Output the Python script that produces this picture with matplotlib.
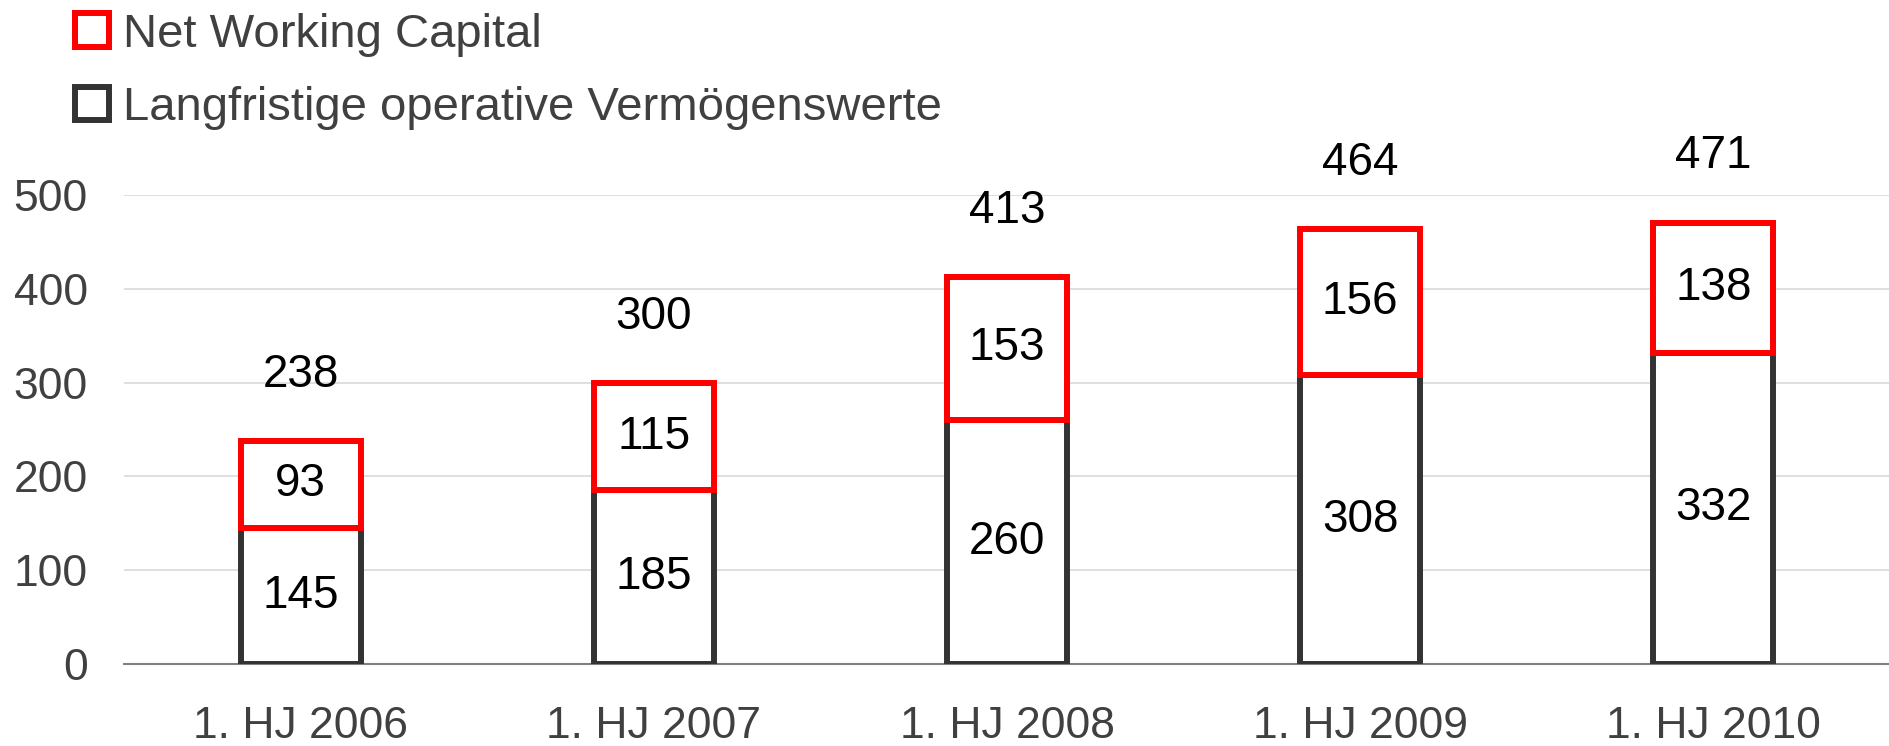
import matplotlib.pyplot as plt
from matplotlib.patches import Patch

# Daten (Mio. EUR)
perioden = ['1. HJ 2006', '1. HJ 2007', '1. HJ 2008', '1. HJ 2009', '1. HJ 2010']
langfristig = [145, 185, 260, 308, 332]
net_working_capital = [93, 115, 153, 156, 138]
summen = [238, 300, 413, 464, 471]

ROT = '#FF0000'
DUNKEL = '#333333'
TEXT = '#404040'

plt.rcParams['font.family'] = ['Liberation Sans', 'DejaVu Sans']

fig = plt.figure(figsize=(18.9, 7.46), dpi=100)
ax = fig.add_axes([124 / 1890, 82 / 746, 1766 / 1890, 469 / 746])

x = range(len(perioden))
breite = 0.34

ax.bar(x, langfristig, width=breite, color='white', edgecolor=DUNKEL, linewidth=4.3, zorder=2)
ax.bar(x, net_working_capital, bottom=langfristig, width=breite, color='white',
       edgecolor=ROT, linewidth=4.3, zorder=3)

# Beschriftungen der Segmente und Summen
for i in x:
    ax.text(i, langfristig[i] / 2, str(langfristig[i]), ha='center', va='center',
            fontsize=33, color='black', zorder=4)
    ax.text(i, langfristig[i] + net_working_capital[i] / 2, str(net_working_capital[i]),
            ha='center', va='center', fontsize=33, color='black', zorder=4)
    ax.annotate(str(summen[i]), xy=(i, summen[i]), xytext=(0, 66),
                textcoords='offset pixels', ha='center', va='center',
                fontsize=33, color='black', annotation_clip=False)

ax.set_xlim(-0.5, len(perioden) - 0.5)
ax.set_ylim(0, 500)
ax.set_yticks([0, 100, 200, 300, 400, 500])
ax.set_xticks(list(x))
ax.set_xticklabels(perioden)
ax.tick_params(axis='y', length=0, pad=26, labelsize=32, labelcolor=TEXT)
ax.tick_params(axis='x', length=0, pad=30, labelsize=32, labelcolor=TEXT)

ax.grid(axis='y', color='#D9D9D9', linewidth=1.2, zorder=0)
ax.set_axisbelow(True)
for s in ['top', 'right', 'left']:
    ax.spines[s].set_visible(False)
ax.spines['bottom'].set_color('#808080')
ax.spines['bottom'].set_linewidth(1.5)
ax.spines['bottom'].set_zorder(1)

handles = [Patch(facecolor='white', edgecolor=ROT, linewidth=4.3, label='Net Working Capital'),
           Patch(facecolor='white', edgecolor=DUNKEL, linewidth=4.3,
                 label='Langfristige operative Vermögenswerte')]
leg = fig.legend(handles=handles, loc='upper left', bbox_to_anchor=(70 / 1890, 1 - 8 / 746),
                 frameon=False, fontsize=34, handlelength=0.72, handleheight=0.72,
                 handletextpad=0.3, labelspacing=0.62, borderaxespad=0, borderpad=0.1)
for t in leg.get_texts():
    t.set_color(TEXT)

fig.savefig('out.png', dpi=100)
